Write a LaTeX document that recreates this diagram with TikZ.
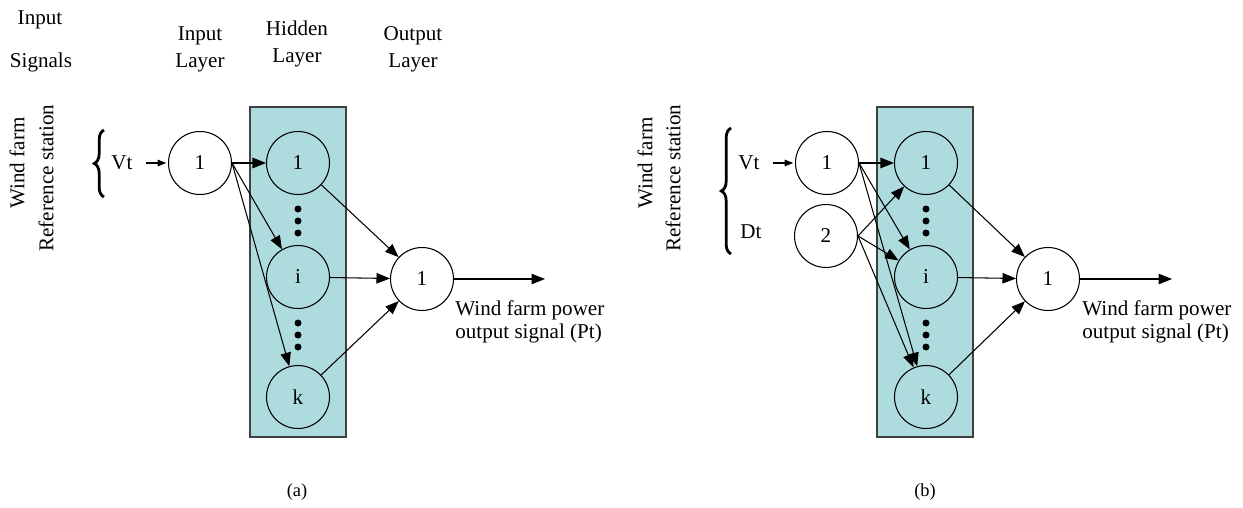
\documentclass[tikz,border=0pt]{standalone}
\usepackage{fontspec}
\setmainfont{Liberation Serif}
\usetikzlibrary{arrows.meta,decorations.pathreplacing}
\definecolor{hidfill}{RGB}{174,220,222}

\begin{document}
\begin{tikzpicture}[
    x=0.02cm, y=-0.02cm,
    font=\fontsize{12}{14}\selectfont,
  neuron/.style={circle, draw, line width=0.6pt, minimum size=1.26cm, inner sep=0pt, fill=white},
  hidneuron/.style={neuron, fill=hidfill},
  layerbox/.style={draw=black!75, fill=hidfill, line width=0.7pt},
  conn/.style={-{Triangle[length=2.7mm,width=2.1mm]}, line width=0.6pt},
  smallarrow/.style={-{Triangle[length=1.7mm,width=1.3mm]}, line width=0.6pt},
  vdot/.style={circle, fill=black, inner sep=0pt, minimum size=0.14cm},
  bracedeco/.style={decorate, decoration={brace, amplitude=5.5pt}, line width=1.6pt},
  sidelabel/.style={rotate=90},
  caption/.style={font=\fontsize{10.5}{12}\selectfont}
]
\useasboundingbox (0,0) rectangle (1243,507);

% Headers
\node (hdrin) at (40, 20) {Input};
\node (hdrsig) at (41, 62) {Signals};
\node[align=center] (hdrinl) at (200, 49) {Input\\[1.5pt]Layer};
\node[align=center] (hdrhid) at (297, 44) {Hidden\\[1.5pt]Layer};
\node[align=center] (hdrout) at (413, 49) {Output\\[1.5pt]Layer};

%%%%%%%%%%%%%%%% (a)
\node[sidelabel] (wfa) at (17, 163) {Wind farm};
\node[sidelabel] (rsa) at (46, 178) {Reference station};
\draw[bracedeco] (104, 197) -- (104, 130);
\node (vta) at (122, 163) {Vt};

% Hidden layer box
\draw[layerbox] (250, 107) rectangle (346, 437);

% Neurons
\node[neuron] (ina) at (200, 163) {1};
\node[hidneuron] (ha1) at (298, 163) {1};
\node[hidneuron] (hai) at (298, 277) {i};
\node[hidneuron] (hak) at (298, 397) {k};
\node[neuron] (outa) at (422, 279) {1};

\node[vdot] (da1) at (298, 209) {};
\node[vdot] (da2) at (298, 221) {};
\node[vdot] (da3) at (298, 233) {};
\node[vdot] (da4) at (298, 323) {};
\node[vdot] (da5) at (298, 335) {};
\node[vdot] (da6) at (298, 347) {};

% Arrows
\draw[smallarrow, shorten <=4pt, shorten >=1pt] (vta.east) -- (ina.west);
\draw[conn] (ina.east) -- (ha1.west);
\draw[conn] (ina.east) -- (hai);
\draw[conn] (ina.east) -- (hak);
\draw[conn] (ha1) -- (outa);
\draw[conn] (hai) -- (outa);
\draw[conn] (hak) -- (outa);

\coordinate (enda) at (545, 279);
\draw[conn] (outa.east) -- (enda);
\node[align=left, anchor=north west, inner sep=0pt] (pta) at (455, 300) {Wind farm power\\[-1pt]output signal (Pt)};

\node[caption] (capa) at (297, 492) {(a)};

%%%%%%%%%%%%%%%% (b)
\node[sidelabel] (wfb) at (645, 163) {Wind farm};
\node[sidelabel] (rsb) at (673, 178) {Reference station};
\draw[bracedeco] (731, 254) -- (731, 128);
\node (vtb) at (749, 163) {Vt};
\node (dtb) at (751, 232) {Dt};

% Hidden layer box
\draw[layerbox] (877, 107) rectangle (973, 437);

% Neurons
\node[neuron] (inb1) at (827, 163) {1};
\node[neuron] (inb2) at (826, 236) {2};
\node[hidneuron] (hb1) at (926, 163) {1};
\node[hidneuron] (hbi) at (926, 277) {i};
\node[hidneuron] (hbk) at (926, 397) {k};
\node[neuron] (outb) at (1048, 279) {1};

\node[vdot] (db1) at (926, 209) {};
\node[vdot] (db2) at (926, 221) {};
\node[vdot] (db3) at (926, 233) {};
\node[vdot] (db4) at (926, 323) {};
\node[vdot] (db5) at (926, 335) {};
\node[vdot] (db6) at (926, 347) {};

% Arrows
\draw[smallarrow, shorten <=4pt, shorten >=1pt] (vtb.east) -- (inb1.west);
\draw[conn] (inb1.east) -- (hb1.west);
\draw[conn] (inb1.east) -- (hbi);
\draw[conn] (inb1.east) -- (hbk);
\draw[conn] (inb2.east) -- (hb1);
\draw[conn] (inb2.east) -- (hbi);
\draw[conn] (inb2.east) -- (hbk);
\draw[conn] (hb1) -- (outb);
\draw[conn] (hbi) -- (outb);
\draw[conn] (hbk) -- (outb);

\coordinate (endb) at (1172, 279);
\draw[conn] (outb.east) -- (endb);
\node[align=left, anchor=north west, inner sep=0pt] (ptb) at (1082, 300) {Wind farm power\\[-1pt]output signal (Pt)};

\node[caption] (capb) at (925, 492) {(b)};

\end{tikzpicture}
\end{document}
